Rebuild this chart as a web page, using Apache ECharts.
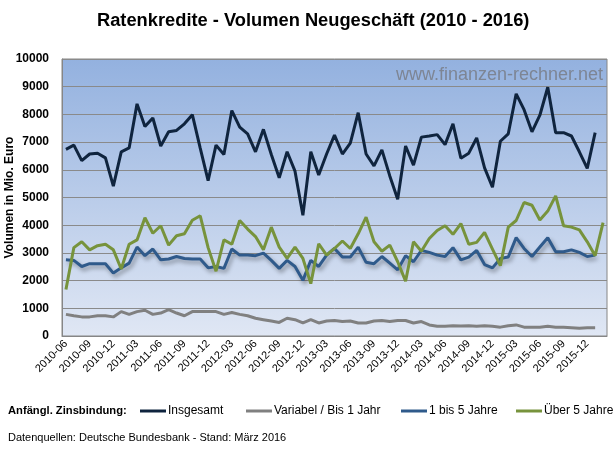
<!DOCTYPE html>
<html>
<head>
<meta charset="utf-8">
<script src="https://cdn.jsdelivr.net/npm/echarts@6/dist/echarts.min.js"></script>
<style>
html,body{margin:0;padding:0;background:#fff;}
#chart{width:615px;height:455px;}
</style>
</head>
<body>
<div id="chart"></div>
<script>
// Monthly categories 2010-06 .. 2016-02
const months = [
 "2010-06","2010-07","2010-08","2010-09","2010-10","2010-11","2010-12",
 "2011-01","2011-02","2011-03","2011-04","2011-05","2011-06","2011-07","2011-08","2011-09","2011-10","2011-11","2011-12",
 "2012-01","2012-02","2012-03","2012-04","2012-05","2012-06","2012-07","2012-08","2012-09","2012-10","2012-11","2012-12",
 "2013-01","2013-02","2013-03","2013-04","2013-05","2013-06","2013-07","2013-08","2013-09","2013-10","2013-11","2013-12",
 "2014-01","2014-02","2014-03","2014-04","2014-05","2014-06","2014-07","2014-08","2014-09","2014-10","2014-11","2014-12",
 "2015-01","2015-02","2015-03","2015-04","2015-05","2015-06","2015-07","2015-08","2015-09","2015-10","2015-11","2015-12",
 "2016-01","2016-02"
];

const insgesamt = [
 6740, 6890, 6330, 6570, 6600, 6430, 5410, 6650, 6790, 8380, 7560, 7870, 6860, 7370, 7420, 7660, 7990,
 6780, 5610, 6890, 6550, 8140, 7540, 7300, 6650, 7460, 6550, 5710, 6650, 5950, 4360, 6650, 5810, 6570,
 7250, 6570, 6960, 8060, 6570, 6140, 6720, 5780, 4940, 6860, 6170, 7180, 7220, 7270, 6910, 7660, 6420,
 6600, 7150, 6070, 5370, 7030, 7300, 8740, 8170, 7370, 7970, 8980, 7340, 7340, 7220, 6650, 6050, 7340
];

const variabel = [
 780, 730, 690, 690, 730, 730, 690, 880, 780, 880, 930, 780, 830, 950, 830, 730, 880,
 880, 880, 880, 780, 850, 780, 730, 640, 590, 540, 490, 640, 590, 470, 590, 470, 540,
 560, 520, 540, 470, 470, 540, 560, 520, 560, 560, 470, 520, 400, 350, 350, 370, 360,
 370, 350, 370, 350, 320, 370, 400, 320, 320, 320, 350, 320, 320, 300, 280, 300, 300
];

const bis5Jahre = [
 2750, 2730, 2510, 2610, 2610, 2610, 2270, 2460, 2630, 3210, 2900, 3140, 2750, 2780, 2870, 2800, 2780,
 2780, 2460, 2510, 2440, 3140, 2920, 2920, 2900, 2990, 2730, 2440, 2730, 2510, 2010, 2730, 2510, 2920,
 3160, 2850, 2850, 3210, 2660, 2610, 2870, 2630, 2390, 2900, 2680, 3090, 3020, 2920, 2870, 3190, 2750,
 2850, 3090, 2580, 2460, 2800, 2850, 3550, 3160, 2870, 3210, 3550, 3040, 3040, 3110, 3020, 2870, 2920
];

const ueber5Jahre = [
 1680, 3190, 3400, 3110, 3260, 3310, 3110, 2420, 3310, 3470, 4270, 3710, 3980, 3280, 3620, 3690, 4180,
 4340, 3190, 2340, 3470, 3310, 4170, 3860, 3590, 3110, 3930, 3210, 2800, 3210, 2800, 1890, 3330, 2920,
 3160, 3430, 3160, 3690, 4290, 3400, 3060, 3280, 2680, 1980, 3400, 3060, 3520, 3810, 3980, 3670, 4060,
 3310, 3380, 3740, 3140, 2540, 3930, 4170, 4820, 4720, 4190, 4510, 5060, 3980, 3930, 3830, 3400, 2900, 4090
];

const seriesNames = ["Insgesamt", "Variabel / Bis 1 Jahr", "1 bis 5 Jahre", "Über 5 Jahre"];
const seriesColors = ["#0f243e", "#808080", "#2f5a8b", "#77933c"];
const legendLeft = [140, 246, 401, 516];

const FONT = "Liberation Sans, Arial, sans-serif";

const chart = echarts.init(document.getElementById('chart'), null, {renderer: 'canvas'});

const dataSets = [insgesamt, variabel, bis5Jahre, ueber5Jahre];

const option = {
  animation: false,
  textStyle: {fontFamily: FONT},
  title: [
    {text: "Ratenkredite - Volumen Neugeschäft (2010 - 2016)", left: 97, top: 12, padding: 0,
     textStyle: {fontFamily: FONT, fontSize: 18.3, fontWeight: 'bold', color: '#000'}},
    {text: "Anfängl. Zinsbindung:", left: 8, top: 405, padding: 0,
     textStyle: {fontFamily: FONT, fontSize: 11.2, fontWeight: 'bold', color: '#000'}},
    {text: "Datenquellen: Deutsche Bundesbank - Stand: März 2016", left: 8, top: 432, padding: 0,
     textStyle: {fontFamily: FONT, fontSize: 11, fontWeight: 'normal', color: '#000'}},
    {text: "www.finanzen-rechner.net", left: 396, top: 66, padding: 0,
     textStyle: {fontFamily: FONT, fontSize: 18, fontWeight: 'normal', color: '#7d8594'}}
  ],
  legend: seriesNames.map((n, i) => ({
    data: [n], left: legendLeft[i], top: 405, padding: 0,
    icon: 'rect', itemWidth: 26, itemHeight: 3, itemGap: 0,
    textStyle: {fontFamily: FONT, fontSize: 12, color: '#000', padding: [0,0,0,-3]}
  })),
  grid: {
    left: 62, top: 59, right: 8, bottom: 119,
    outerBoundsMode: 'none',
    show: true, borderColor: '#868686', borderWidth: 1,
    backgroundColor: new echarts.graphic.LinearGradient(0, 0, 0, 1, [
      {offset: 0, color: '#93b1df'},
      {offset: 1, color: '#e0e7f4'}
    ]),
    containLabel: false
  },
  xAxis: {
    type: 'category', data: months, boundaryGap: true,
    axisLine: {show: true, lineStyle: {color: '#868686'}},
    axisTick: {show: false},
    axisLabel: {interval: 2, rotate: 45, fontSize: 11, color: '#000', margin: 6, fontFamily: FONT},
    splitLine: {show: false}
  },
  yAxis: {
    type: 'value', min: 0, max: 10000, interval: 1000,
    name: "Volumen in Mio. Euro", nameLocation: 'middle', nameGap: 46, nameRotate: 90,
    nameMoveOverlap: false,
    nameTextStyle: {fontFamily: FONT, fontSize: 12, fontWeight: 'bold', color: '#000'},
    axisLine: {show: true, lineStyle: {color: '#868686'}},
    axisTick: {show: false},
    axisLabel: {fontSize: 12, fontWeight: 'bold', color: '#000', margin: 13, fontFamily: FONT,
      formatter: v => String(v)},
    splitLine: {show: true, lineStyle: {color: '#8a8a8a', width: 1}}
  },
  series: seriesNames.map((n, i) => ({
    name: n, type: 'line', data: dataSets[i], showSymbol: false, symbol: 'none',
    color: seriesColors[i],
    z: [5, 2, 3, 4][i],
    lineStyle: Object.assign({color: seriesColors[i], width: 3},
      i === 2 ? {shadowColor: 'rgba(0,0,0,0.35)', shadowBlur: 4, shadowOffsetX: 2, shadowOffsetY: 3} : {})
  }))
};

chart.setOption(option);
</script>
</body>
</html>
